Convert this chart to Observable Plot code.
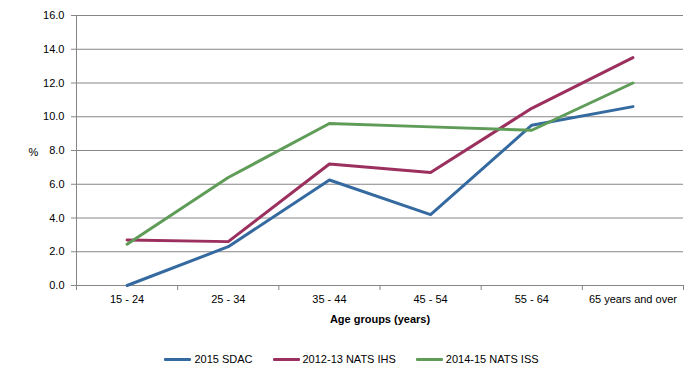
<!DOCTYPE html>
<html><head><meta charset="utf-8">
<script src="https://cdn.jsdelivr.net/npm/d3@7"></script>
<script src="https://cdn.jsdelivr.net/npm/@observablehq/plot@0.6"></script>
<style>
body{margin:0;background:#fff;font-family:"Liberation Sans",Arial,sans-serif;}
#wrap{width:699px;height:378px;position:relative;}
#legend{position:absolute;left:0;top:349px;width:699px;height:20px;display:flex;justify-content:center;align-items:center;font-size:11px;color:#000;padding-left:4px;box-sizing:border-box;}
.item{display:flex;align-items:center;margin:0 10px;}
.sw{width:27px;height:3px;margin-right:3px;border-radius:1px;}
</style>
</head><body><div id="wrap"><div id="chart"></div><div id="legend"></div></div>
<script>
const categories = ["15 - 24", "25 - 34", "35 - 44", "45 - 54", "55 - 64", "65 years and over"];
const seriesNames = ["2015 SDAC", "2012-13 NATS IHS", "2014-15 NATS ISS"];
const sdac = [0.0, 2.3, 6.25, 4.2, 9.5, 10.6];
const ihs = [2.7, 2.6, 7.2, 6.7, 10.5, 13.5];
const iss = [2.45, 6.4, 9.6, 9.4, 9.2, 12.0];
const yTicks = [0, 2, 4, 6, 8, 10, 12, 14, 16];
const colors = ["#356aa0", "#9b2f5e", "#5e9c58"];

const seriesValues = [sdac, ihs, iss];
const data = [];
seriesValues.forEach((vals, s) => vals.forEach((v, i) => data.push({i, cat: categories[i], value: v, series: seriesNames[s]})));
const boundaries = d3.range(categories.length + 1).map(k => k - 0.5);

const chart = Plot.plot({
  width: 699, height: 340,
  marginLeft: 76, marginRight: 16, marginTop: 15, marginBottom: 55,
  style: {fontFamily: "Liberation Sans, Arial, sans-serif", fontSize: "11px", color: "#000", background: "#fff"},
  x: {type: "linear", domain: [-0.5, categories.length - 0.5], axis: null},
  y: {domain: [0, 16], axis: null},
  color: {domain: seriesNames, range: colors},
  marks: [
    Plot.ruleY(yTicks, {stroke: "#868686", strokeWidth: 1}),
    Plot.ruleX([-0.5], {stroke: "#868686", strokeWidth: 1}),
    Plot.axisY({ticks: yTicks, tickFormat: d3.format(".1f"), tickSize: 5, tickPadding: 7, stroke: "#868686", fill: "#000", label: null}),
    Plot.axisX({ticks: boundaries, tickFormat: () => "", tickSize: 5, stroke: "#868686", label: null}),
    Plot.axisX({ticks: d3.range(categories.length), tickFormat: i => categories[i], tickSize: 0, tickPadding: 10, fill: "#000", label: null}),
    Plot.lineY(data, {x: "i", y: "value", z: "series", stroke: "series", strokeWidth: 3, strokeLinejoin: "round"}),
    Plot.text(["Age groups (years)"], {frameAnchor: "bottom", dy: 37, fontWeight: "bold", fill: "#000"}),
    Plot.text(["%"], {frameAnchor: "left", dx: -48, dy: 2, fill: "#000"})
  ]
});
document.getElementById("chart").appendChild(chart);

const legend = document.getElementById("legend");
seriesNames.forEach((name, s) => {
  const it = document.createElement("div"); it.className = "item";
  const sw = document.createElement("div"); sw.className = "sw"; sw.style.background = colors[s];
  const tx = document.createElement("span"); tx.textContent = name;
  it.appendChild(sw); it.appendChild(tx); legend.appendChild(it);
});
</script>
</body></html>
